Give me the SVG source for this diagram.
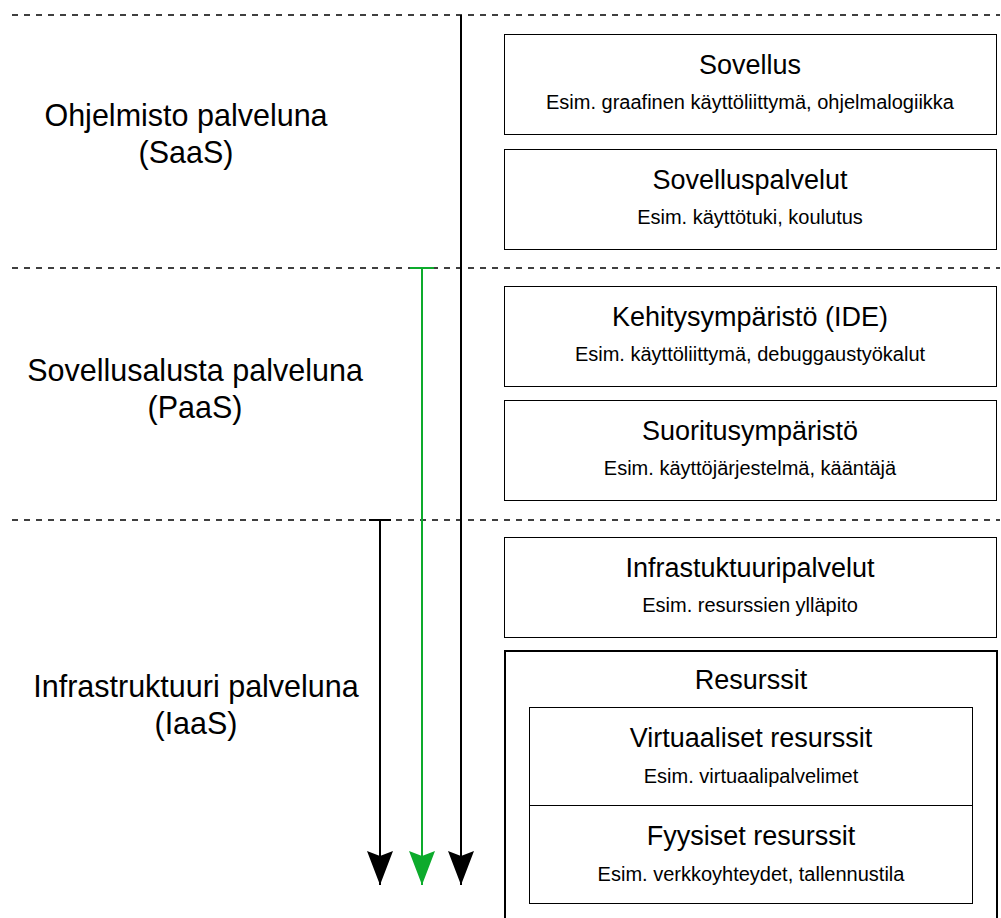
<svg xmlns="http://www.w3.org/2000/svg" width="1001" height="918" viewBox="0 0 1001 918">
<style>
.dash{stroke:#000;stroke-width:1.5;stroke-dasharray:6 6;fill:none}
.box{fill:#fff;stroke:#000;stroke-width:1}
.lbl{font-family:"Liberation Sans",Arial,sans-serif;font-size:30.5px;fill:#000;text-anchor:middle}
.t{font-family:"Liberation Sans",Arial,sans-serif;font-size:27px;fill:#000;text-anchor:middle}
.s{font-family:"Liberation Sans",Arial,sans-serif;font-size:20px;fill:#000;text-anchor:middle}
.conn{stroke-width:2;fill:none}
</style>
<defs>
<marker id="ahb" markerUnits="userSpaceOnUse" markerWidth="26" markerHeight="36" refX="13" refY="34" orient="0" viewBox="0 0 26 36">
<path d="M0 0 L13 5 L26 0 L13 34 Z" fill="#000"/>
</marker>
<marker id="ahg" markerUnits="userSpaceOnUse" markerWidth="26" markerHeight="36" refX="13" refY="34" orient="0" viewBox="0 0 26 36">
<path d="M0 0 L13 5 L26 0 L13 34 Z" fill="#0dab2c"/>
</marker>
</defs>
<rect width="1001" height="918" fill="#fff"/>
<g id="separators">
<line class="dash" x1="12" y1="15" x2="1000" y2="15"/>
<line class="dash" x1="12" y1="268" x2="1000" y2="268"/>
<line class="dash" x1="12" y1="520" x2="1000" y2="520"/>
</g>
<g id="labels">
<text class="lbl" x="186" y="126">Ohjelmisto palveluna</text>
<text class="lbl" x="186" y="163">(SaaS)</text>
<text class="lbl" x="195" y="381">Sovellusalusta palveluna</text>
<text class="lbl" x="195" y="418">(PaaS)</text>
<text class="lbl" x="196" y="697">Infrastruktuuri palveluna</text>
<text class="lbl" x="196" y="734">(IaaS)</text>
</g>
<g id="connectors">
<line class="conn" stroke="#000" x1="461" y1="15" x2="461" y2="885" marker-end="url(#ahb)"/>
<line class="conn" stroke="#0dab2c" x1="422" y1="268" x2="422" y2="885" marker-end="url(#ahg)"/>
<line class="conn" stroke="#0dab2c" x1="410" y1="268" x2="434" y2="268"/>
<line class="conn" stroke="#000" x1="380" y1="520" x2="380" y2="885" marker-end="url(#ahb)"/>
<line class="conn" stroke="#000" x1="369" y1="520" x2="391" y2="520"/>
</g>
<g id="sovellus">
<rect class="box" x="504.5" y="34.5" width="492" height="100"/>
<text class="t" x="750" y="74">Sovellus</text>
<text class="s" x="750" y="109">Esim. graafinen käyttöliittymä, ohjelmalogiikka</text>
</g>
<g id="sovelluspalvelut">
<rect class="box" x="504.5" y="149.5" width="492" height="100"/>
<text class="t" x="750" y="189">Sovelluspalvelut</text>
<text class="s" x="750" y="224">Esim. käyttötuki, koulutus</text>
</g>
<g id="kehitysymparisto">
<rect class="box" x="504.5" y="286.5" width="492" height="100"/>
<text class="t" x="750" y="326">Kehitysympäristö (IDE)</text>
<text class="s" x="750" y="361">Esim. käyttöliittymä, debuggaustyökalut</text>
</g>
<g id="suoritusymparisto">
<rect class="box" x="504.5" y="400.5" width="492" height="100"/>
<text class="t" x="750" y="440">Suoritusympäristö</text>
<text class="s" x="750" y="475">Esim. käyttöjärjestelmä, kääntäjä</text>
</g>
<g id="infrastruktuuripalvelut">
<rect class="box" x="504.5" y="537.5" width="492" height="100"/>
<text class="t" x="750" y="577">Infrastuktuuripalvelut</text>
<text class="s" x="750" y="612">Esim. resurssien ylläpito</text>
</g>
<g id="resurssit">
<rect x="505" y="651" width="492" height="280" fill="#fff" stroke="#000" stroke-width="2"/>
<text class="t" x="751" y="689">Resurssit</text>
</g>
<g id="virtuaaliset">
<rect class="box" x="529.5" y="707.5" width="443" height="98"/>
<text class="t" x="751" y="747">Virtuaaliset resurssit</text>
<text class="s" x="751" y="783">Esim. virtuaalipalvelimet</text>
</g>
<g id="fyysiset">
<rect class="box" x="529.5" y="805.5" width="443" height="98"/>
<text class="t" x="751" y="845">Fyysiset resurssit</text>
<text class="s" x="751" y="881">Esim. verkkoyhteydet, tallennustila</text>
</g>
</svg>
